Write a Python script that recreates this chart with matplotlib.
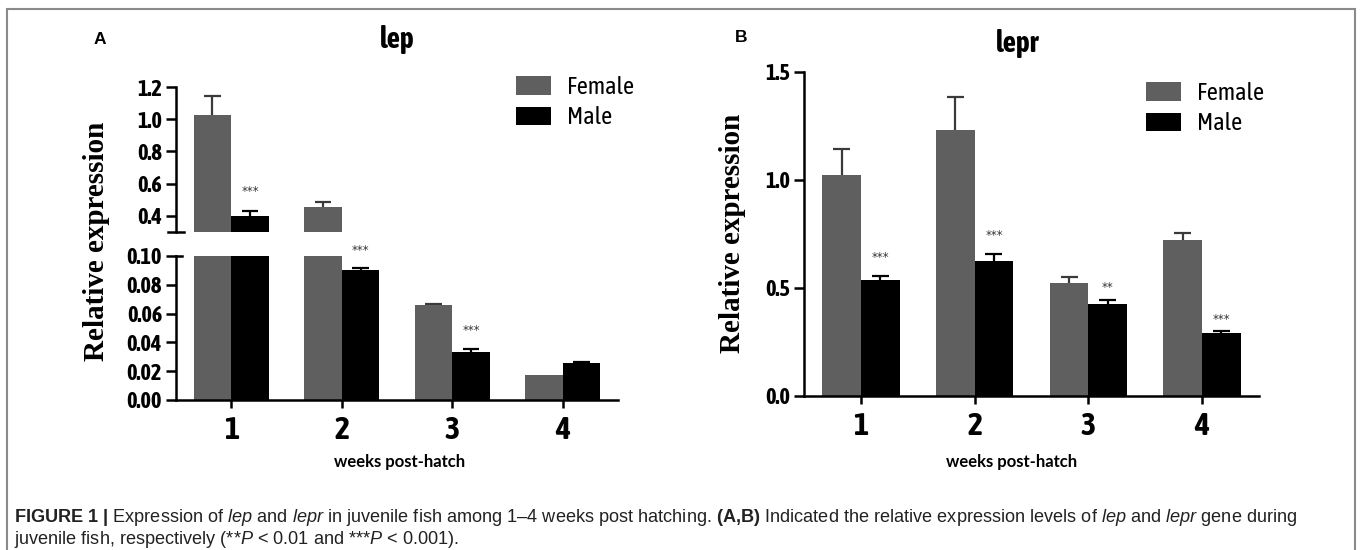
import matplotlib
matplotlib.use("Agg")
import matplotlib.pyplot as plt
from matplotlib import font_manager
from matplotlib import patheffects
from matplotlib.patches import Rectangle
import numpy as np

# data
weeks = [1, 2, 3, 4]

lep_female = [1.025, 0.455, 0.066, 0.0175]
lep_female_err = [0.118, 0.032, 0.001, 0.0]
lep_male = [0.40, 0.090, 0.033, 0.026]
lep_male_err = [0.030, 0.0015, 0.0025, 0.0006]
lep_marks = ["***", "***", "***", ""]
lep_mark_y = [0.55, 0.104, 0.048, 0.0]

lepr_female = [1.023, 1.231, 0.523, 0.722]
lepr_female_err = [0.120, 0.153, 0.028, 0.033]
lepr_male = [0.537, 0.625, 0.426, 0.292]
lepr_male_err = [0.019, 0.032, 0.018, 0.008]
lepr_marks = ["***", "***", "**", "***"]
lepr_mark_y = [0.643, 0.745, 0.50, 0.352]


# pick an upright narrow bold sans for the Prism-style labels
def is_bold(f):
    w = f.weight
    if isinstance(w, str):
        return "bold" in w.lower()
    return 600 <= w <= 800


def is_narrow(f):
    return (("Narrow" in f.name or "Condensed" in f.name or f.stretch in ("condensed", "semi-condensed"))
            and "Serif" not in f.name and "Mono" not in f.name and f.style == "normal")


fonts = font_manager.fontManager.ttflist
names = {f.name for f in fonts}
bold_narrow = [f for f in fonts if is_narrow(f) and is_bold(f)]
NARROW, STRETCH, EMBOLDEN = "Liberation Sans", "normal", False
if any(f.name == "Liberation Sans Narrow" for f in bold_narrow):
    NARROW = "Liberation Sans Narrow"
elif bold_narrow:
    f0 = sorted(bold_narrow, key=lambda f: f.name)[0]
    NARROW = f0.name
    STRETCH = f0.stretch if f0.stretch in ("condensed", "semi-condensed") else "normal"
else:
    plain = sorted({f.name for f in fonts if is_narrow(f)})
    if plain:
        NARROW, EMBOLDEN = plain[0], True
XLAB_FONT = "Lato" if "Lato" in names else "DejaVu Sans"
BOLD_FX = [patheffects.withStroke(linewidth=0.9, foreground="black")] if EMBOLDEN else []

GRAY = "#5f5f5f"
ERR_GRAY = "#3a3a3a"
W = 0.34
W_PX, H_PX = 1360, 550

plt.rcParams["mathtext.fontset"] = "custom"
plt.rcParams["mathtext.rm"] = "Liberation Sans"
plt.rcParams["mathtext.it"] = "Liberation Sans:italic"
plt.rcParams["mathtext.bf"] = "Liberation Sans:bold"


def fx(px):
    return px / W_PX


def fy(py):
    return 1 - py / H_PX


def axes_px(fig, left, top, right, bottom):
    return fig.add_axes([fx(left), fy(bottom), (right - left) / W_PX, (bottom - top) / H_PX])


def style_axes(ax):
    for s in ("top", "right"):
        ax.spines[s].set_visible(False)
    for s in ("left", "bottom"):
        ax.spines[s].set_linewidth(1.8)
    ax.tick_params(axis="y", width=1.8, length=7, pad=3, labelsize=16)
    ax.tick_params(axis="x", width=1.8, length=5.5, pad=5, labelsize=23)
    for lab in ax.get_xticklabels() + ax.get_yticklabels():
        lab.set_family(NARROW)
        lab.set_stretch(STRETCH)
        lab.set_style("normal")
        lab.set_weight("bold")
        lab.set_path_effects(BOLD_FX)
    ax.set_xlim(0.5, 4.5)


def draw_bars(ax, female, female_err, male, male_err):
    x = np.array(weeks, dtype=float)
    bf = ax.bar(x - W / 2, female, W, color=GRAY, label="Female", zorder=2)
    bm = ax.bar(x + W / 2, male, W, color="black", label="Male", zorder=2)
    for xs, vals, errs, c in ((x - W / 2, female, female_err, ERR_GRAY),
                              (x + W / 2, male, male_err, "black")):
        for xi, v, e in zip(xs, vals, errs):
            if e <= 0:
                continue
            ax.vlines(xi, v, v + e, color=c, lw=1.6, zorder=1)
            ax.hlines(v + e, xi - 0.075, xi + 0.075, color=c, lw=1.6, zorder=1)
    return bf, bm


def add_legend(ax, handles, left, top):
    ax.legend(handles, ["Female", "Male"], loc="upper left",
              bbox_to_anchor=(fx(left), fy(top)), bbox_transform=ax.figure.transFigure,
              frameon=False, borderpad=0, borderaxespad=0, handlelength=1.45,
              handleheight=0.8, handletextpad=0.65, labelspacing=0.3,
              prop={"family": NARROW, "stretch": STRETCH, "style": "normal", "size": 17.5})


fig = plt.figure(figsize=(13.6, 5.5), dpi=100)

# ---- panel A (broken axis) ----
ax_top = axes_px(fig, 176, 87, 618, 232)
ax_bot = axes_px(fig, 176, 256, 618, 400)
handles = None
for ax in (ax_top, ax_bot):
    handles = draw_bars(ax, lep_female, lep_female_err, lep_male, lep_male_err)
ax_top.set_ylim(0.3, 1.2)
ax_top.set_yticks([0.4, 0.6, 0.8, 1.0, 1.2])
ax_top.yaxis.set_major_formatter(matplotlib.ticker.FormatStrFormatter("%.1f"))
ax_top.spines["bottom"].set_visible(False)
ax_top.set_xticks([])
ax_bot.set_ylim(0, 0.10)
ax_bot.set_yticks([0, 0.02, 0.04, 0.06, 0.08, 0.10])
ax_bot.yaxis.set_major_formatter(matplotlib.ticker.FormatStrFormatter("%.2f"))
ax_bot.set_xticks(weeks)
for ax in (ax_top, ax_bot):
    style_axes(ax)
# break marks
dx = 8 / 442
ax_top.plot([-dx, dx], [0, 0], transform=ax_top.transAxes, color="black", lw=1.8, clip_on=False)
ax_bot.plot([0, dx * 0.8], [1, 1], transform=ax_bot.transAxes, color="black", lw=1.8, clip_on=False)

for w, m, my in zip(weeks, lep_marks, lep_mark_y):
    if not m:
        continue
    ax = ax_top if my > 0.3 else ax_bot
    ax.text(w + W / 2, my, m, ha="center", va="center", fontsize=8.5, color="#333333",
            family="DejaVu Sans", clip_on=False)

add_legend(ax_top, handles, 516, 76)

# ---- panel B ----
ax_b = axes_px(fig, 804, 72, 1259, 396)
hb = draw_bars(ax_b, lepr_female, lepr_female_err, lepr_male, lepr_male_err)
ax_b.set_ylim(0, 1.5)
ax_b.set_yticks([0, 0.5, 1.0, 1.5])
ax_b.yaxis.set_major_formatter(matplotlib.ticker.FormatStrFormatter("%.1f"))
ax_b.set_xticks(weeks)
style_axes(ax_b)
for w, m, my in zip(weeks, lepr_marks, lepr_mark_y):
    ax_b.text(w + W / 2, my, m, ha="center", va="center", fontsize=8.5, color="#333333",
              family="DejaVu Sans")
add_legend(ax_b, hb, 1146, 82)

# ---- labels ----
fig.text(fx(100), fy(40), "A", ha="center", va="center", fontsize=12.5, weight="bold",
         family="Liberation Sans")
fig.text(fx(741), fy(37), "B", ha="center", va="center", fontsize=12.5, weight="bold",
         family="Liberation Sans")
for x, y, s in ((397, 40, "lep"), (1018, 43, "lepr")):
    fig.text(fx(x), fy(y), s, ha="center", va="center", fontsize=21, weight="bold",
             family=NARROW, stretch=STRETCH, style="normal", path_effects=BOLD_FX)
for x, y in ((96, 241), (732, 233)):
    fig.text(fx(x), fy(y), "Relative expression", rotation=90, ha="center", va="center",
             fontsize=21, weight="bold", family="Liberation Serif")
for x in (400, 1012):
    fig.text(fx(x), fy(462), "weeks post-hatch", ha="center", va="center", fontsize=12,
             weight="bold", family=XLAB_FONT)

# frame around the figure
fig.patches.append(Rectangle((fx(7), -0.05), fx(1355) - fx(7), fy(9) + 0.05,
                             transform=fig.transFigure, fill=False, edgecolor="#8a8a8a",
                             lw=1.5))

# caption
line1 = (r"$\mathbf{FIGURE\ 1\ |}$ Expression of $\mathit{lep}$ and $\mathit{lepr}$ in juvenile "
         r"fish among 1–4 weeks post hatching. $\mathbf{(A{,}B)}$ Indicated the relative expression "
         r"levels of $\mathit{lep}$ and $\mathit{lepr}$ gene during")
line2 = r"juvenile fish, respectively (**$\mathit{P}$ < 0.01 and ***$\mathit{P}$ < 0.001)."
t1 = fig.text(fx(14), fy(518), line1, ha="left", va="center", fontsize=12, family="Liberation Sans",
              color="#222222")
t2 = fig.text(fx(14), fy(540), line2, ha="left", va="center", fontsize=12, family="Liberation Sans",
              color="#222222")
fig.canvas.draw()
width = t1.get_window_extent().width
scale = (1293 - 14) / width
t1.set_fontsize(12 * scale)
t2.set_fontsize(12 * scale)

fig.savefig("out.png", dpi=100, facecolor="white")
